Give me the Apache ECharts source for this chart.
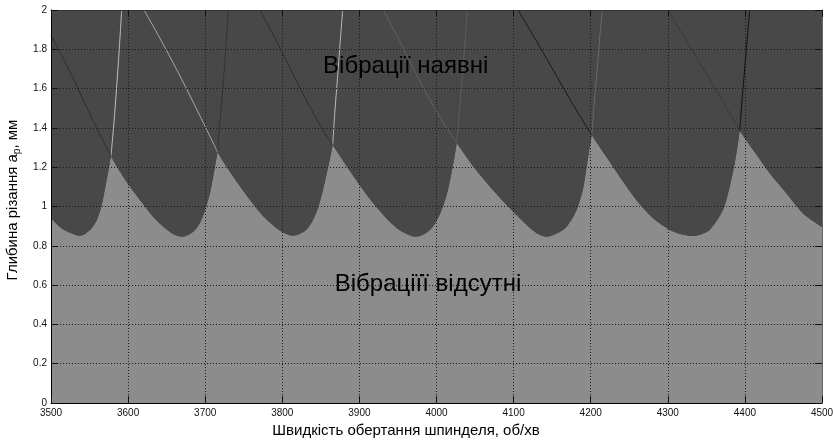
<!DOCTYPE html>
<html><head><meta charset="utf-8">
<script src="https://cdn.jsdelivr.net/npm/echarts@6/dist/echarts.min.js"></script>
<style>html,body{margin:0;padding:0;background:#fff}#c{width:833px;height:443px}</style>
</head><body><div id="c"></div>
<script>
// Stability lobes: [spindle speed (rpm), depth of cut (mm)]
const lobeA = [[3500,0.94],[3511.7,0.895],[3524.6,0.866],[3537.6,0.85],[3550.6,0.88],[3559.3,0.93],[3565.8,1.008],[3570,1.09],[3574.3,1.18],[3577.8,1.257],[3581.5,1.42],[3585,1.60],[3588.5,1.80],[3591.7,2.0]];
const lobeB = [[3500,1.873],[3519.5,1.725],[3538.9,1.567],[3558.4,1.405],[3577.8,1.257],[3585.2,1.203],[3600.3,1.112],[3615.4,1.033],[3632.3,0.948],[3647.9,0.889],[3658.2,0.860],[3669.5,0.846],[3684.6,0.872],[3693.3,0.916],[3699.8,0.982],[3706.2,1.069],[3710.5,1.155],[3716,1.277],[3719.3,1.44],[3723.7,1.644],[3727,1.822],[3730,2.0]];
const lobeC = [[3620.6,2.0],[3644,1.837],[3668.6,1.654],[3692,1.471],[3716,1.277],[3724.4,1.221],[3740,1.131],[3756.2,1.043],[3774.3,0.954],[3791.2,0.893],[3802.2,0.865],[3814.3,0.851],[3829.4,0.875],[3838.5,0.921],[3846.3,0.992],[3852.8,1.084],[3858,1.176],[3862.5,1.255],[3865.4,1.313],[3868.3,1.491],[3871.6,1.654],[3874.8,1.822],[3878.3,2.0]];
const lobeD = [[3771.1,2.0],[3797,1.807],[3822.9,1.603],[3851.1,1.399],[3865.4,1.313],[3883.5,1.205],[3900.8,1.106],[3918,1.016],[3935.4,0.938],[3952.7,0.878],[3973.4,0.846],[3991.6,0.880],[4004.5,0.962],[4013.2,1.059],[4019.7,1.176],[4024,1.267],[4026.2,1.325],[4029.8,1.491],[4033.7,1.669],[4037,1.837],[4040,2.0]];
const lobeE = [[3931,2.0],[3956.9,1.807],[3982.9,1.603],[4013.2,1.399],[4026.2,1.325],[4047.7,1.203],[4069.4,1.101],[4091,1.008],[4112.6,0.923],[4130,0.864],[4142.9,0.846],[4156,0.862],[4168.9,0.897],[4181.8,0.982],[4190.4,1.095],[4194.8,1.205],[4199.1,1.310],[4201.3,1.364],[4204.9,1.542],[4208.8,1.720],[4212,1.873],[4215,2.0]];
const lobeF = [[4105.7,2.0],[4130.3,1.837],[4155,1.669],[4178.3,1.511],[4201.3,1.364],[4220.2,1.253],[4237.6,1.152],[4259.1,1.033],[4280.8,0.940],[4302.4,0.880],[4316,0.860],[4330.5,0.850],[4343,0.858],[4354.3,0.880],[4371.6,0.982],[4380.3,1.101],[4386.8,1.220],[4391,1.322],[4393.2,1.386],[4396.9,1.567],[4400.1,1.720],[4403.4,1.873],[4406.2,2.0]];
const lobeG = [[4300.2,2.0],[4323.6,1.847],[4346.9,1.695],[4370.3,1.542],[4393.2,1.386],[4410.7,1.288],[4432.2,1.169],[4453.7,1.067],[4475.3,0.965],[4500,0.896]];
const cuspSpeeds = [3577.8, 3716, 3865.4, 4026.2, 4201.3, 4393.2];
const leftLineColors  = [null, '#2e2e2e', '#a8a8a8', '#2e2e2e', '#626262', '#1a1a1a', '#3a3a3a'];
const rightLineColors = ['#bdbdbd', '#333333', '#bababa', '#5e5e5e', '#6a6a6a', '#111111', null];
const annotationTexts = ['Вібрації наявні', 'Вібраціїї відсутні'];
const annotationAt = [[3960, 1.715], [3989, 0.606]];
const xTitle = 'Швидкість обертання шпинделя, об/хв';

const lobes = [lobeA, lobeB, lobeC, lobeD, lobeE, lobeF, lobeG];
const FONT = '"Liberation Sans", Arial, sans-serif';
const DARK = '#484848', LIGHT = '#8c8c8c';

// lower (stability boundary) part of each lobe, between its two cusps
const segments = lobes.map((lobe, i) => {
  const lo = i > 0 ? cuspSpeeds[i - 1] : -Infinity;
  const hi = i < cuspSpeeds.length ? cuspSpeeds[i] : Infinity;
  return lobe.filter(p => p[0] >= lo && p[0] <= hi);
});
const envelope = [].concat(...segments);

// dark "unstable" region: area from the boundary up to the axis maximum
const series = [{
  type: 'line', data: envelope, symbol: 'none', silent: true, z: 2,
  lineStyle: { width: 0, opacity: 0 },
  areaStyle: { color: DARK, opacity: 1, origin: 'end' }
}];
segments.forEach(seg => series.push({
  type: 'line', data: seg, symbol: 'none', silent: true, z: 2, smooth: 0.35,
  lineStyle: { width: 0, opacity: 0 },
  areaStyle: { color: DARK, opacity: 1, origin: 'end' }
}));
lobes.forEach((lobe, i) => {
  if (i > 0) series.push({
    type: 'line', symbol: 'none', silent: true, z: 3, smooth: 0.3,
    data: lobe.filter(p => p[0] <= cuspSpeeds[i - 1]),
    lineStyle: { color: leftLineColors[i], width: 1 }
  });
  if (i < cuspSpeeds.length) series.push({
    type: 'line', symbol: 'none', silent: true, z: 3, smooth: 0.3,
    data: lobe.filter(p => p[0] >= cuspSpeeds[i]),
    lineStyle: { color: rightLineColors[i], width: 1 }
  });
});

const chart = echarts.init(document.getElementById('c'), null, { renderer: 'canvas' });
const tickStyle = { inside: true, length: 7, lineStyle: { color: '#111', width: 1 } };
const gridLine = { show: true, lineStyle: { color: '#1a1a1a', type: [1, 2], width: 1 } };
chart.setOption({
  animation: false,
  backgroundColor: '#ffffff',
  grid: { left: 51, right: 11, top: 10, bottom: 40, show: true, backgroundColor: LIGHT, borderWidth: 0, containLabel: false, outerBoundsMode: 'none' },
  xAxis: [{
    type: 'value', min: 3500, max: 4500, interval: 100, position: 'bottom', z: 5,
    axisLine: { onZero: false, lineStyle: { color: '#000', width: 1 } },
    axisTick: tickStyle,
    axisLabel: { color: '#111', fontSize: 10, margin: 5, fontFamily: FONT, formatter: v => String(v) },
    splitLine: gridLine,
    name: xTitle, nameLocation: 'middle', nameGap: 16,
    nameTextStyle: { color: '#000', fontSize: 15, fontFamily: FONT, padding: [0, 61, 0, 0] }
  }, {
    type: 'value', min: 3500, max: 4500, interval: 100, position: 'top', z: 5,
    axisLine: { onZero: false, lineStyle: { color: '#333', width: 1 } },
    axisTick: tickStyle, axisLabel: { show: false }, splitLine: { show: false }
  }],
  yAxis: [{
    type: 'value', min: 0, max: 2, interval: 0.2, position: 'left', z: 5,
    axisLine: { show: true, onZero: false, lineStyle: { color: '#000', width: 1 } },
    axisTick: { show: true, inside: true, length: 7, lineStyle: { color: '#111', width: 1 } },
    axisLabel: { color: '#111', fontSize: 10, margin: 4, fontFamily: FONT },
    splitLine: gridLine,
    name: '{n|Глибина різання a}{s|p}{n|, мм}', nameLocation: 'middle', nameGap: 24,
    nameTextStyle: {
      color: '#000', fontFamily: FONT, padding: [0, 0, 0, 13],
      rich: {
        n: { fontSize: 15, fontFamily: FONT, color: '#000', lineHeight: 18 },
        s: { fontSize: 10, fontFamily: FONT, color: '#000', verticalAlign: 'bottom', lineHeight: 18 }
      }
    }
  }, {
    type: 'value', min: 0, max: 2, interval: 0.2, position: 'right', z: 5,
    axisLine: { show: true, onZero: false, lineStyle: { color: '#666', width: 1 } },
    axisTick: { show: true, inside: true, length: 7, lineStyle: { color: '#111', width: 1 } },
    axisLabel: { show: false }, splitLine: { show: false }
  }],
  series: series
});

const graphics = annotationTexts.map((t, k) => {
  const p = chart.convertToPixel({ gridIndex: 0 }, annotationAt[k]);
  return {
    type: 'text', x: p[0], y: p[1], z: 100, silent: true,
    style: { text: t, fill: '#000', fontSize: 24, fontFamily: FONT, align: 'center', verticalAlign: 'middle' }
  };
});
chart.setOption({ graphic: graphics });
</script>
</body></html>
